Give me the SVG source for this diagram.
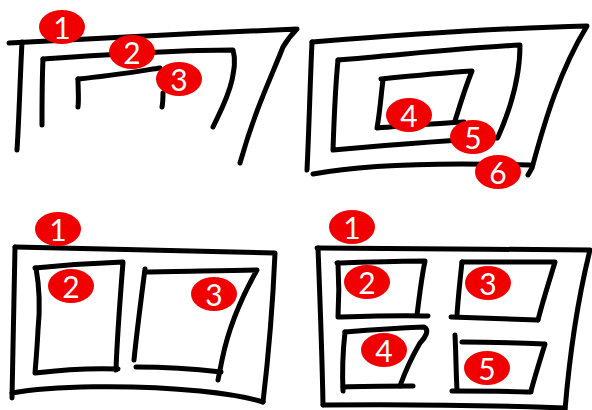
<svg xmlns="http://www.w3.org/2000/svg" width="592" height="410" viewBox="0 0 592 410">
<style>
.s{fill:none;stroke:#000;stroke-width:5;stroke-linecap:round;stroke-linejoin:round}
.b ellipse{fill:#f00000}
.b text{fill:#fff;font-family:Lato,"Open Sans","Liberation Sans",sans-serif;font-size:30px;text-anchor:middle;dominant-baseline:central}
</style>
<rect width="592" height="410" fill="#fff"/>
<g id="sketch1">
<path class="s" d="M9,43 C80,39 200,33 297,29 C290,36 287,40 283,47 C270,80 255,110 240,163"/>
<path class="s" d="M22,42 C20,80 19,120 17,150"/>
<path class="s" d="M43,59 C100,55 170,50 233,50 C236,60 234,70 232,80 C228,98 220,112 213,127"/>
<path class="s" d="M43,59 C42,80 42,100 42,125"/>
<path class="s" d="M78,79 C78,90 79,98 78,107"/>
<path class="s" d="M78,79 C110,76 140,71 160,68"/>
<path class="s" d="M163,93 C163,98 163,102 162,107"/>
</g>
<g id="sketch2">
<path class="s" d="M312,42 C400,35 500,28 587,26 C560,70 545,120 532,168 L528,175"/>
<path class="s" d="M312,42 C310,85 309,130 307,170"/>
<path class="s" d="M313,174 C360,165 430,162 530,165"/>
<path class="s" d="M338,60 C400,55 460,48 520,45 C520,80 510,110 498,137"/>
<path class="s" d="M338,60 C335,90 334,120 333,150 C390,145 450,140 497,138"/>
<path class="s" d="M381,79 C410,76 440,73 472,71 C465,88 460,105 455,121"/>
<path class="s" d="M383,80 C381,95 380,112 377,128 C405,126 440,123 464,122"/>
</g>
<g id="sketch3">
<path class="s" d="M15,247 C100,249 200,251 275,253 C273,300 268,360 263,402"/>
<path class="s" d="M15,247 C14,300 13,350 12,398"/>
<path class="s" d="M12,393 C50,386 130,384 200,391 C230,394 250,398 263,402"/>
<path class="s" d="M35,268 C65,265 95,263 123,262 C120,300 117,340 116,370"/>
<path class="s" d="M36,268 C40,290 40,310 38,330 C37,350 36,360 35,373 C60,370 90,368 118,369"/>
<path class="s" d="M145,269 C141,300 137,330 134,360"/>
<path class="s" d="M145,272 C180,271 220,271 257,270 C240,300 228,330 222,360 L218,380"/>
<path class="s" d="M136,367 C165,367 195,369 221,372"/>
</g>
<g id="sketch4">
<path class="s" d="M317,248 C400,249 500,249 590,250 C580,290 570,350 565,410"/>
<path class="s" d="M318,248 C320,300 322,350 323,405"/>
<path class="s" d="M323,405 C400,404 480,405 565,408"/>
<path class="s" d="M337,263 C370,262 400,261 425,261 C421,280 419,300 417,315"/>
<path class="s" d="M338,263 C339,280 339,300 338,317 C370,316 400,315 428,316"/>
<path class="s" d="M462,262 C495,262 525,262 555,262 C549,282 543,300 538,320"/>
<path class="s" d="M462,262 C460,280 458,300 457,315"/>
<path class="s" d="M451,317 C480,318 510,319 538,320"/>
<path class="s" d="M345,332 C370,330 400,328 424,327 C430,330 425,338 420,343 C410,360 405,372 400,386"/>
<path class="s" d="M345,332 C343,350 342,370 343,391"/>
<path class="s" d="M343,387 C365,386 390,386 413,386"/>
<path class="s" d="M462,342 C490,342 520,343 545,344 C540,360 535,376 531,391"/>
<path class="s" d="M455,335 C456,355 456,372 457,390"/>
<path class="s" d="M452,391 C480,391 505,391 531,392"/>
</g>
<g id="badges" class="b">
<g id="b1-1"><ellipse cx="62" cy="27" rx="23" ry="17"/><text x="62" y="27">1</text></g>
<g id="b1-2"><ellipse cx="132" cy="52" rx="23" ry="17"/><text x="132" y="52">2</text></g>
<g id="b1-3"><ellipse cx="179" cy="79" rx="23" ry="17"/><text x="179" y="79">3</text></g>
<g id="b2-4"><ellipse cx="409" cy="115" rx="23" ry="17"/><text x="409" y="115">4</text></g>
<g id="b2-5"><ellipse cx="473" cy="137" rx="23" ry="17"/><text x="473" y="137">5</text></g>
<g id="b2-6"><ellipse cx="498" cy="172" rx="23" ry="17"/><text x="498" y="172">6</text></g>
<g id="b3-1"><ellipse cx="58" cy="229" rx="23" ry="17"/><text x="58" y="229">1</text></g>
<g id="b3-2"><ellipse cx="71" cy="286" rx="23" ry="17"/><text x="71" y="286">2</text></g>
<g id="b3-3"><ellipse cx="214" cy="294" rx="23" ry="17"/><text x="214" y="294">3</text></g>
<g id="b4-1"><ellipse cx="352" cy="227" rx="23" ry="17"/><text x="352" y="227">1</text></g>
<g id="b4-2"><ellipse cx="367" cy="282" rx="23" ry="17"/><text x="367" y="282">2</text></g>
<g id="b4-3"><ellipse cx="488" cy="283" rx="23" ry="17"/><text x="488" y="283">3</text></g>
<g id="b4-4"><ellipse cx="384" cy="350" rx="23" ry="17"/><text x="384" y="350">4</text></g>
<g id="b4-5"><ellipse cx="487" cy="368" rx="23" ry="17"/><text x="487" y="368">5</text></g>
</g>
</svg>
